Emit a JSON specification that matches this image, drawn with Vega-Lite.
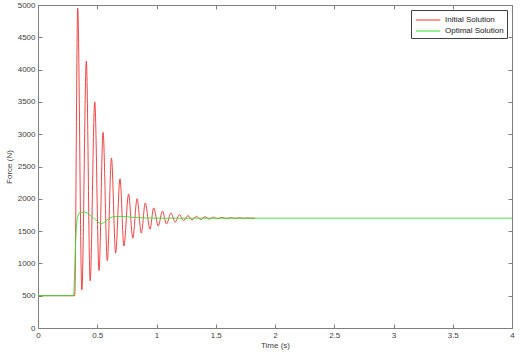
{
  "$schema": "https://vega.github.io/schema/vega-lite/v6.json",
  "width": 474,
  "height": 323,
  "autosize": {"type": "none"},
  "padding": {"left": 38, "top": 5, "right": 8, "bottom": 24},
  "background": "white",
  "config": {
    "font": "Liberation Sans",
    "view": {"stroke": "#808080", "strokeWidth": 1},
    "axis": {
      "grid": false,
      "domainColor": "#808080",
      "tickColor": "#808080",
      "labelColor": "#404040",
      "labelFontSize": 8,
      "titleFontSize": 8,
      "titleFontWeight": "normal",
      "titleColor": "#404040",
      "tickSize": -4,
      "labelPadding": 7
    }
  },
  "data": {
    "values": [
      {"t": 0, "f": 500, "s": "Initial Solution"},
      {"t": 0.31, "f": 500, "s": "Initial Solution"},
      {"t": 0.335, "f": 4950, "s": "Initial Solution"},
      {"t": 0.37, "f": 590, "s": "Initial Solution"},
      {"t": 0.408, "f": 4130, "s": "Initial Solution"},
      {"t": 0.44, "f": 730, "s": "Initial Solution"},
      {"t": 0.479, "f": 3500, "s": "Initial Solution"},
      {"t": 0.515, "f": 890, "s": "Initial Solution"},
      {"t": 0.549, "f": 3030, "s": "Initial Solution"},
      {"t": 0.585, "f": 1040, "s": "Initial Solution"},
      {"t": 0.62, "f": 2630, "s": "Initial Solution"},
      {"t": 0.655, "f": 1160, "s": "Initial Solution"},
      {"t": 0.692, "f": 2310, "s": "Initial Solution"},
      {"t": 0.725, "f": 1270, "s": "Initial Solution"},
      {"t": 0.764, "f": 2075, "s": "Initial Solution"},
      {"t": 0.8, "f": 1390, "s": "Initial Solution"},
      {"t": 0.836, "f": 2000, "s": "Initial Solution"},
      {"t": 0.872, "f": 1470, "s": "Initial Solution"},
      {"t": 0.905, "f": 1935, "s": "Initial Solution"},
      {"t": 0.945, "f": 1530, "s": "Initial Solution"},
      {"t": 0.976, "f": 1860, "s": "Initial Solution"},
      {"t": 1.015, "f": 1580, "s": "Initial Solution"},
      {"t": 1.05, "f": 1810, "s": "Initial Solution"},
      {"t": 1.085, "f": 1610, "s": "Initial Solution"},
      {"t": 1.122, "f": 1780, "s": "Initial Solution"},
      {"t": 1.158, "f": 1640, "s": "Initial Solution"},
      {"t": 1.193, "f": 1755, "s": "Initial Solution"},
      {"t": 1.23, "f": 1660, "s": "Initial Solution"},
      {"t": 1.265, "f": 1740, "s": "Initial Solution"},
      {"t": 1.3, "f": 1672, "s": "Initial Solution"},
      {"t": 1.337, "f": 1730, "s": "Initial Solution"},
      {"t": 1.372, "f": 1680, "s": "Initial Solution"},
      {"t": 1.41, "f": 1722, "s": "Initial Solution"},
      {"t": 1.445, "f": 1686, "s": "Initial Solution"},
      {"t": 1.48, "f": 1716, "s": "Initial Solution"},
      {"t": 1.515, "f": 1690, "s": "Initial Solution"},
      {"t": 1.552, "f": 1712, "s": "Initial Solution"},
      {"t": 1.59, "f": 1693, "s": "Initial Solution"},
      {"t": 1.625, "f": 1708, "s": "Initial Solution"},
      {"t": 1.66, "f": 1695, "s": "Initial Solution"},
      {"t": 1.697, "f": 1705, "s": "Initial Solution"},
      {"t": 1.733, "f": 1697, "s": "Initial Solution"},
      {"t": 1.77, "f": 1703, "s": "Initial Solution"},
      {"t": 1.805, "f": 1698, "s": "Initial Solution"},
      {"t": 1.83, "f": 1700, "s": "Initial Solution"},
      {"t": 0, "f": 500, "s": "Optimal Solution"},
      {"t": 0.3, "f": 500, "s": "Optimal Solution"},
      {"t": 0.31, "f": 900, "s": "Optimal Solution"},
      {"t": 0.32, "f": 1450, "s": "Optimal Solution"},
      {"t": 0.335, "f": 1720, "s": "Optimal Solution"},
      {"t": 0.355, "f": 1790, "s": "Optimal Solution"},
      {"t": 0.39, "f": 1795, "s": "Optimal Solution"},
      {"t": 0.42, "f": 1775, "s": "Optimal Solution"},
      {"t": 0.47, "f": 1700, "s": "Optimal Solution"},
      {"t": 0.537, "f": 1615, "s": "Optimal Solution"},
      {"t": 0.58, "f": 1670, "s": "Optimal Solution"},
      {"t": 0.63, "f": 1720, "s": "Optimal Solution"},
      {"t": 0.7, "f": 1728, "s": "Optimal Solution"},
      {"t": 0.8, "f": 1712, "s": "Optimal Solution"},
      {"t": 0.9, "f": 1703, "s": "Optimal Solution"},
      {"t": 1.0, "f": 1700, "s": "Optimal Solution"},
      {"t": 4, "f": 1700, "s": "Optimal Solution"}
    ]
  },
  "layer": [
    {
      "mark": {"type": "line", "interpolate": "monotone", "strokeWidth": 0.9},
      "encoding": {
        "x": {
          "field": "t", "type": "quantitative",
          "scale": {"domain": [0, 4], "nice": false, "zero": false},
          "axis": {"title": "Time (s)", "values": [0, 0.5, 1, 1.5, 2, 2.5, 3, 3.5, 4], "format": "~g", "titlePadding": 2, "labelFlush": false}
        },
        "y": {
          "field": "f", "type": "quantitative",
          "scale": {"domain": [0, 5000], "nice": false},
          "axis": {"title": "Force (N)", "values": [0, 500, 1000, 1500, 2000, 2500, 3000, 3500, 4000, 4500, 5000], "format": "d", "titlePadding": 4, "labelFlush": false}
        },
        "color": {
          "field": "s", "type": "nominal",
          "scale": {"domain": ["Initial Solution", "Optimal Solution"], "range": ["#f03030", "#30e030"]},
          "legend": {
            "title": null,
            "orient": "top-right",
            "offset": 5,
            "symbolType": "M-2,0H2",
            "symbolSize": 150,
            "symbolOffset": 7,
            "symbolStrokeWidth": 1,
            "labelOffset": 10,
            "labelFontSize": 8,
            "labelColor": "#202020",
            "strokeColor": "#404040",
            "fillColor": "white",
            "padding": 3,
            "rowPadding": 0
          }
        }
      }
    },
    {
      "mark": {"type": "line", "opacity": 0},
      "encoding": {
        "x": {
          "field": "t", "type": "quantitative",
          "scale": {"domain": [0, 4], "nice": false},
          "axis": {"orient": "top", "labels": false, "title": null, "values": [0, 0.5, 1, 1.5, 2, 2.5, 3, 3.5, 4]}
        },
        "y": {
          "field": "f", "type": "quantitative",
          "scale": {"domain": [0, 5000], "nice": false},
          "axis": {"orient": "right", "labels": false, "title": null, "values": [0, 500, 1000, 1500, 2000, 2500, 3000, 3500, 4000, 4500, 5000]}
        }
      }
    }
  ],
  "resolve": {"axis": {"x": "independent", "y": "independent"}}
}
